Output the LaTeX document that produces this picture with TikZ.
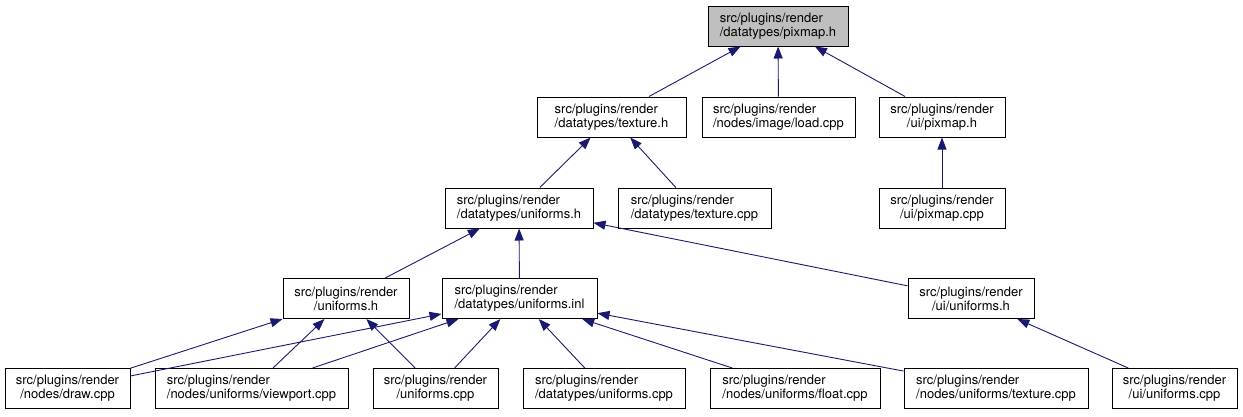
\documentclass[tikz,border=0pt]{standalone}
\usepackage{fontspec}
\setmainfont{TeX Gyre Heros}
\usepackage{xcolor}
\usetikzlibrary{arrows.meta}

\definecolor{edgeblue}{HTML}{191970}

\begin{document}
\begin{tikzpicture}[x=1pt, y=-1pt,
    file/.style={draw, fill=white, line width=1pt, minimum height=40pt, inner xsep=4pt, inner ysep=2pt, font=\fontsize{13}{14}\selectfont},
    filel/.style={file, align=left},
    filec/.style={file, align=center},
    current/.style={filel, fill=gray!50},
    dep/.style={edgeblue, line width=0.9pt, -{Triangle[length=12pt, width=9pt]}}
]
\useasboundingbox (0,0) rectangle (1243,416);

\node[current, minimum width=140pt] (pix) at (778,26) {src/plugins/render\\/datatypes/pixmap.h};

\node[filel, minimum width=149pt] (texh) at (611.5,117) {src/plugins/render\\/datatypes/texture.h};
\node[filel, minimum width=153pt] (load) at (778.5,117) {src/plugins/render\\/nodes/image/load.cpp};
\node[filec, minimum width=126pt] (uipix) at (942,117) {src/plugins/render\\/ui/pixmap.h};

\node[filel, minimum width=148pt] (duni) at (519,208) {src/plugins/render\\/datatypes/uniforms.h};
\node[filel, minimum width=153pt] (texcpp) at (694.5,208) {src/plugins/render\\/datatypes/texture.cpp};
\node[filec, minimum width=126pt] (uipixcpp) at (942,208) {src/plugins/render\\/ui/pixmap.cpp};

\node[filec, minimum width=126pt] (runi) at (346,298.5) {src/plugins/render\\/uniforms.h};
\node[filel, minimum width=155pt] (inl) at (519.5,298.5) {src/plugins/render\\/datatypes/uniforms.inl};
\node[filec, minimum width=126pt] (uiuni) at (971,298.5) {src/plugins/render\\/ui/uniforms.h};

\node[filec, minimum width=125pt] (draw) at (67.5,388.5) {src/plugins/render\\/nodes/draw.cpp};
\node[filel, minimum width=193pt] (viewport) at (251.5,388.5) {src/plugins/render\\/nodes/uniforms/viewport.cpp};
\node[filec, minimum width=125pt] (unicpp) at (435.5,388.5) {src/plugins/render\\/uniforms.cpp};
\node[filel, minimum width=162pt] (dunicpp) at (604,388.5) {src/plugins/render\\/datatypes/uniforms.cpp};
\node[filel, minimum width=170pt] (float) at (795,388.5) {src/plugins/render\\/nodes/uniforms/float.cpp};
\node[filel, minimum width=184pt] (nutex) at (996,388.5) {src/plugins/render\\/nodes/uniforms/texture.cpp};
\node[filec, minimum width=125pt] (uiunicpp) at (1174.5,388.5) {src/plugins/render\\/ui/uniforms.cpp};

\draw[dep] (texh) -- (pix);
\draw[dep] (load) -- (pix);
\draw[dep] (uipix) -- (pix);
\draw[dep] (duni) -- (texh);
\draw[dep] (texcpp) -- (texh);
\draw[dep] (uipixcpp) -- (uipix);
\draw[dep] (runi) -- (duni);
\draw[dep] (inl) -- (duni);
\draw[dep] (uiuni) -- (duni);
\draw[dep] (draw) -- (runi);
\draw[dep] (viewport) -- (runi);
\draw[dep] (unicpp) -- (runi);
\draw[dep] (draw) -- (inl);
\draw[dep] (viewport) -- (inl);
\draw[dep] (unicpp) -- (inl);
\draw[dep] (dunicpp) -- (inl);
\draw[dep] (float) -- (inl);
\draw[dep] (nutex) -- (inl);
\draw[dep] (uiunicpp) -- (uiuni);

\end{tikzpicture}
\end{document}
